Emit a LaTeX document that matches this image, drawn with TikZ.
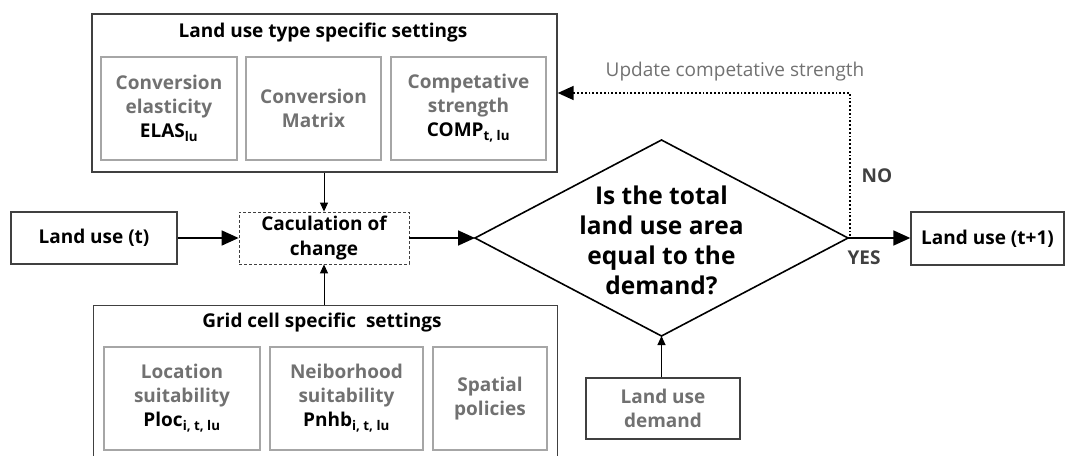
\documentclass[tikz,border=0pt]{standalone}
\usepackage{fontspec}
\setmainfont{Open Sans}
\usetikzlibrary{arrows.meta}
\definecolor{boxline}{HTML}{404040}
\definecolor{innerline}{HTML}{A6A6A6}
\definecolor{graytext}{HTML}{717171}
\tikzset{
  outerbox/.style={draw=boxline, line width=1.4pt, inner sep=0pt},
  innerbox/.style={draw=innerline, line width=1.3pt, inner sep=0pt, align=center,
    font=\bfseries\fontsize{19}{24}\selectfont, text=graytext},
  plainbox/.style={draw=boxline, line width=1.4pt, inner sep=0pt, align=center,
    font=\bfseries\fontsize{19}{24.5}\selectfont},
  title/.style={font=\bfseries\fontsize{19}{22}\selectfont, inner sep=0pt},
  bigarrow/.style={line width=1.7pt, -{Triangle[length=17pt,width=15pt]}},
  smallarrow/.style={line width=1pt, -{Triangle[length=9pt,width=8pt]}},
  lbl/.style={text=boxline, font=\bfseries\fontsize{19}{22}\selectfont, inner sep=0pt}
}
\begin{document}
\begin{tikzpicture}[x=1pt,y=-1pt]
\useasboundingbox (0,0) rectangle (1070,455);
\clip (0,0) rectangle (1070,455);
% top settings box
\node[outerbox, minimum width=465pt, minimum height=158pt] (top) at (324.5,93) {};
\node[title] (toptitle) at (323,33) {Land use type specific settings};
\node[innerbox, minimum width=136pt, minimum height=103pt] (elas) at (169,108.5)
  {Conversion\\elasticity\\\textcolor{black}{ELAS\textsubscript{lu}}};
\node[innerbox, minimum width=135pt, minimum height=103pt] (matrix) at (313.5,108.5)
  {Conversion\\Matrix};
\node[innerbox, minimum width=155pt, minimum height=103pt] (comp) at (468.5,108.5)
  {Competative\\strength\\\textcolor{black}{COMP\textsubscript{t, lu}}};
% bottom settings box
\node[outerbox, minimum width=464pt, minimum height=180pt, anchor=north west] (bot) at (93,305) {};
\node[title] (bottitle) at (322,323) {Grid cell specific\ \ settings};
\node[innerbox, minimum width=156pt, minimum height=103pt] (ploc) at (182,398.5)
  {Location\\suitability\\\textcolor{black}{Ploc\textsubscript{i, t, lu}}};
\node[innerbox, minimum width=153pt, minimum height=103pt] (pnhb) at (346.5,398.5)
  {Neiborhood\\suitability\\\textcolor{black}{Pnhb\textsubscript{i, t, lu}}};
\node[innerbox, minimum width=114pt, minimum height=103pt] (policy) at (490,398.5)
  {Spatial\\policies};
% main flow
\node[plainbox, minimum width=166pt, minimum height=52pt] (lut) at (94,238) {Land use (t)};
\node[plainbox, draw=boxline, line width=0.8pt, densely dashed, minimum width=170pt, minimum height=52pt] (calc) at (324,238)
  {Caculation of\\change};
\coordinate (dl) at (475,238);
\coordinate (dt) at (661.5,140);
\coordinate (dr) at (848,238);
\coordinate (db) at (661.5,336);
\draw[line width=1.6pt, line join=miter] (dl) -- (dt) -- (dr) -- (db) -- cycle;
\node[align=center, inner sep=0pt, font=\bfseries\fontsize{24.5}{30}\selectfont] (q) at (661.5,240)
  {Is the total\\land use area\\equal to the\\demand?};
\node[plainbox, minimum width=153pt, minimum height=53pt] (lut1) at (987.5,238.5) {Land use (t+1)};
\node[plainbox, text=graytext, minimum width=154pt, minimum height=61pt] (demand) at (663,408.5)
  {Land use\\demand};
% connectors
\draw[bigarrow] (lut.east) -- (calc.west);
\draw[bigarrow] (calc.east) -- (dl);
\draw[bigarrow] (dr) -- (lut1.west |- dr);
\draw[smallarrow] (top.south -| calc.north) -- (calc.north);
\draw[smallarrow] (bot.north -| calc.south) -- (calc.south);
\draw[smallarrow] (demand.north -| db) -- (db);
\coordinate (corner) at (850,93);
\draw[line width=1.8pt, dotted, -{Triangle[length=16pt,width=14pt]}] (dr) -- (dr -| corner) -- (corner) -- (top.east |- corner);
% labels
\node[text=graytext, font=\fontsize{19}{22}\selectfont, inner sep=0pt] (upd) at (735,72) {Update competative strength};
\node[lbl] (no) at (877,176) {NO};
\node[lbl] (yes) at (864,258) {YES};
\end{tikzpicture}
\end{document}
